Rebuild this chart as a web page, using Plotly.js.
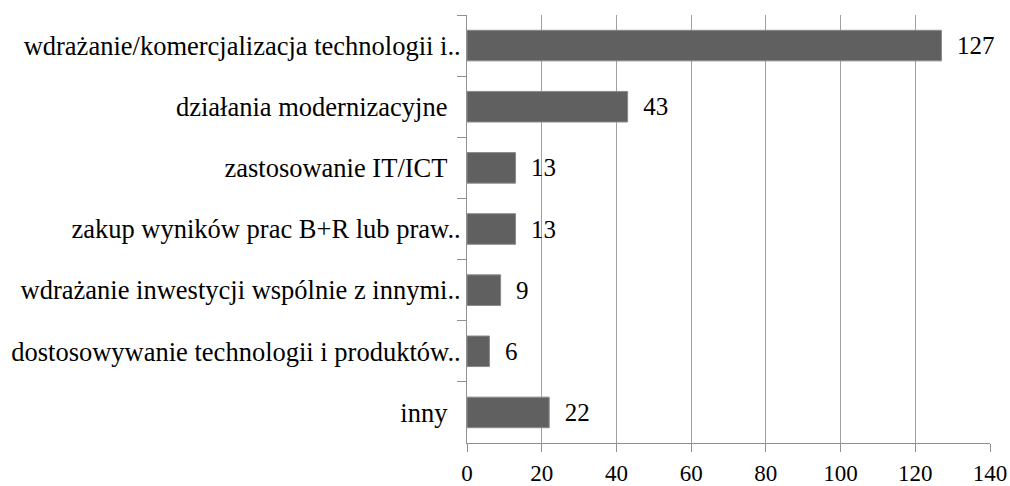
<!DOCTYPE html>
<html>
<head>
<meta charset="utf-8">
<script src="https://cdn.plot.ly/plotly-3.0.1.min.js"></script>
<style>html,body{margin:0;padding:0;background:#fff;}#chart{width:1010px;height:486px;}</style>
</head>
<body>
<div id="chart"></div>
<script>
const categories = [
  "wdrażanie/komercjalizacja technologii i..",
  "działania modernizacyjne\u00a0\u00a0",
  "zastosowanie IT/ICT\u00a0\u00a0",
  "zakup wyników prac B+R lub praw..",
  "wdrażanie inwestycji wspólnie z innymi..",
  "dostosowywanie technologii i produktów..",
  "inny\u00a0\u00a0"
];
const values = [127, 43, 13, 13, 9, 6, 22];
const xTicks = [0, 20, 40, 60, 80, 100, 120, 140];

const serif = '"Liberation Serif", "Times New Roman", serif';

Plotly.newPlot('chart', [{
  type: 'bar',
  orientation: 'h',
  y: categories,
  x: values,
  text: values.map(v => '\u00a0\u00a0' + v),
  textposition: 'outside',
  cliponaxis: false,
  textfont: {family: serif, size: 25, color: '#000'},
  marker: {color: '#606060', line: {color: '#8a8a8a', width: 1}},
  hoverinfo: 'none'
}], {
  width: 1010, height: 486,
  margin: {l: 467, r: 20, t: 15, b: 43},
  paper_bgcolor: '#fff', plot_bgcolor: '#fff',
  bargap: 0.5,
  showlegend: false,
  font: {family: serif},
  xaxis: {
    range: [0, 140],
    tickvals: xTicks,
    ticktext: xTicks.map(String),
    showgrid: true, gridcolor: '#a0a0a0', gridwidth: 1,
    zeroline: false,
    showline: true, linecolor: '#909090', linewidth: 1,
    ticks: 'outside', ticklen: 8, tickcolor: '#909090',
    ticklabelstandoff: 1,
    tickfont: {family: serif, size: 23, color: '#000'},
    fixedrange: true
  },
  yaxis: {
    type: 'category',
    autorange: 'reversed',
    showgrid: false,
    showline: true, linecolor: '#909090', linewidth: 1,
    ticks: 'outside', ticklen: 9, tickcolor: '#909090',
    tickson: 'boundaries',
    ticklabelstandoff: 0,
    tickfont: {family: serif, size: 26.5, color: '#000'},
    fixedrange: true
  }
}, {displayModeBar: false, staticPlot: true});
</script>
</body>
</html>
